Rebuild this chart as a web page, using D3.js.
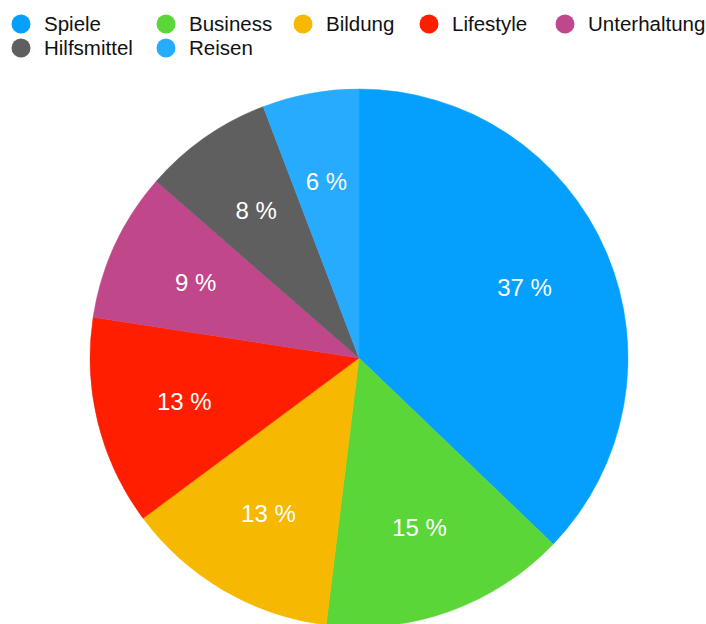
<!DOCTYPE html>
<html>
<head>
<meta charset="utf-8">
<script src="https://cdn.jsdelivr.net/npm/d3@7"></script>
<style>
  body { margin: 0; background: #fff; }
  svg { display: block; font-family: "Liberation Sans", Helvetica, Arial, sans-serif; }
</style>
</head>
<body>
<div id="chart"></div>
<script>
// Categories and their shares
const categories = ["Spiele", "Business", "Bildung", "Lifestyle", "Unterhaltung", "Hilfsmittel", "Reisen"];
const values = [37.2, 14.8, 12.9, 12.6, 9.0, 7.8, 5.8];
const colors = ["#05a0fd", "#5bd639", "#f6b800", "#ff1f00", "#c0478a", "#5f5f5f", "#26abfe"];

const width = 706, height = 624;
const cx = 359, cy = 358, radius = 269, labelRadius = 180;

const svg = d3.select("#chart").append("svg")
    .attr("width", width)
    .attr("height", height);

// Legend: 5 columns, wraps into a second row
const perRow = 5;
const legendCols = [21, 166, 303, 429, 565]; // circle centres of each column
const legend = svg.append("g").attr("class", "legend");
const items = legend.selectAll(".item")
    .data(categories)
    .enter().append("g")
    .attr("class", "item")
    .attr("transform", (d, i) => `translate(${legendCols[i % perRow]}, ${24 + Math.floor(i / perRow) * 24})`);

items.append("circle")
    .attr("r", 9.5)
    .style("fill", (d, i) => colors[i]);

items.append("text")
    .attr("x", 23)
    .attr("y", 7)
    .style("font-size", "20.5px")
    .style("fill", "#111")
    .text(d => d);

// Pie
const pie = d3.pie().sort(null).value(d => d);
const arcs = pie(values);
const total = d3.sum(values);

const arc = d3.arc().innerRadius(0).outerRadius(radius);
const labelArc = d3.arc().innerRadius(labelRadius).outerRadius(labelRadius);

const g = svg.append("g").attr("transform", `translate(${cx}, ${cy})`);

g.selectAll(".slice")
    .data(arcs)
    .enter().append("path")
    .attr("class", "slice")
    .attr("d", arc)
    .style("fill", (d, i) => colors[i])
    .style("stroke", (d, i) => colors[i])
    .style("stroke-width", "0.5px");

g.selectAll(".label")
    .data(arcs)
    .enter().append("text")
    .attr("class", "label")
    .attr("transform", d => `translate(${labelArc.centroid(d)})`)
    .attr("dy", "0.36em")
    .style("text-anchor", "middle")
    .style("font-size", "24px")
    .style("fill", "#fff")
    .text(d => Math.round(d.value / total * 100) + " %");
</script>
</body>
</html>
